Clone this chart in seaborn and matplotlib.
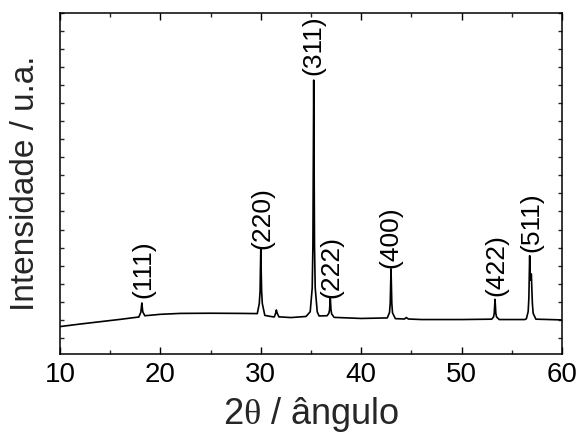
import matplotlib
matplotlib.use("Agg")
import matplotlib.pyplot as plt
from matplotlib.ticker import MultipleLocator
import numpy as np
import pandas as pd
import seaborn as sns

# --- data (2theta in degrees, intensity in a.u.) ---
two_theta = [
    10.0, 12.0, 14.0, 16.0, 17.85,
    18.05, 18.10, 18.15, 18.20, 18.25, 18.45,
    20.0, 22.0, 25.0, 28.0, 29.65,
    29.85, 29.93, 29.96, 30.00, 30.04, 30.08, 30.15, 30.40,
    31.20, 31.35, 31.50, 31.55, 31.62, 31.80,
    33.00, 34.50, 34.92,
    35.12, 35.19, 35.23, 35.27, 35.31, 35.35, 35.42, 35.62, 35.80,
    36.60, 36.78, 36.85, 36.89, 36.92, 36.95, 36.99, 37.06, 37.30,
    40.00, 42.60,
    42.82, 42.89, 42.93, 42.97, 43.01, 43.05, 43.12, 43.40,
    44.30, 44.50, 44.70, 46.00, 50.00, 53.00,
    53.18, 53.25, 53.29, 53.33, 53.37, 53.41, 53.48, 53.75,
    56.30, 56.45,
    56.63, 56.70, 56.74, 56.78, 56.82, 56.86, 56.92, 56.95, 56.99, 57.05, 57.13, 57.40,
    60.0,
]
intensity = [
    162, 176, 189, 202, 215,
    241, 266, 293, 266, 243, 222,
    230, 235, 236, 235, 234,
    290, 360, 470, 593, 470, 360, 290, 224,
    216, 216, 240, 254, 238, 216,
    212, 218, 244,
    375, 610, 1070, 1528, 1070, 610, 375, 244, 221,
    222, 236, 255, 294, 326, 294, 255, 232, 213,
    207, 210,
    240, 290, 385, 482, 385, 290, 238, 206,
    204, 212, 204, 201, 201, 203,
    215, 235, 274, 313, 274, 235, 215, 201,
    201, 205,
    245, 320, 440, 555, 460, 420, 450, 454, 380, 290, 235, 203,
    199,
]

peak_labels = ["(111)", "(220)", "(311)", "(222)", "(400)", "(422)", "(511)"]
label_x = [18.3, 30.2, 35.2, 37.06, 42.87, 53.5, 56.98]
label_y = [318, 593, 1556, 323, 489, 332, 573]

x_ticks = [10, 20, 30, 40, 50, 60]

df = pd.DataFrame({"two_theta": two_theta, "intensity": intensity})

sns.set_theme(style="ticks")
plt.rcParams["font.family"] = ["Liberation Sans", "DejaVu Sans"]
plt.rcParams["mathtext.fontset"] = "custom"
plt.rcParams["mathtext.rm"] = "Liberation Serif"
plt.rcParams["mathtext.it"] = "Liberation Serif"

fig = plt.figure(figsize=(5.79, 4.36), dpi=100)
ax = fig.add_axes([60 / 579, (436 - 354) / 436, (562 - 60) / 579, (354 - 13) / 436])

sns.lineplot(data=df, x="two_theta", y="intensity", ax=ax, color="black",
             linewidth=1.2, estimator=None, sort=False)

for lab, lx, ly in zip(peak_labels, label_x, label_y):
    ax.text(lx, ly, lab, rotation=90, ha="center", va="bottom", fontsize=19,
            color="black")

ax.set_xlim(10, 60)
ax.set_ylim(10, 1900)
ax.set_xticks(x_ticks)
ax.xaxis.set_minor_locator(MultipleLocator(5))
ax.yaxis.set_major_locator(MultipleLocator(100))
ax.set_yticklabels([])
ax.tick_params(axis="x", which="major", direction="in", length=5, width=1,
               labelsize=20, top=True, pad=6, colors="black")
ax.tick_params(axis="x", which="minor", direction="in", length=3, width=1,
               top=True)
ax.tick_params(axis="y", which="major", direction="in", length=3, width=1,
               left=True, right=True, labelleft=False)

for s in ax.spines.values():
    s.set_linewidth(1.1)
    s.set_color("black")

ax.set_xlabel(r"2$\mathrm{\theta}$ / ângulo", fontsize=26, labelpad=5)
ax.set_ylabel("Intensidade / u.a.", fontsize=24, labelpad=14)

fig.savefig("out.png", dpi=100)
